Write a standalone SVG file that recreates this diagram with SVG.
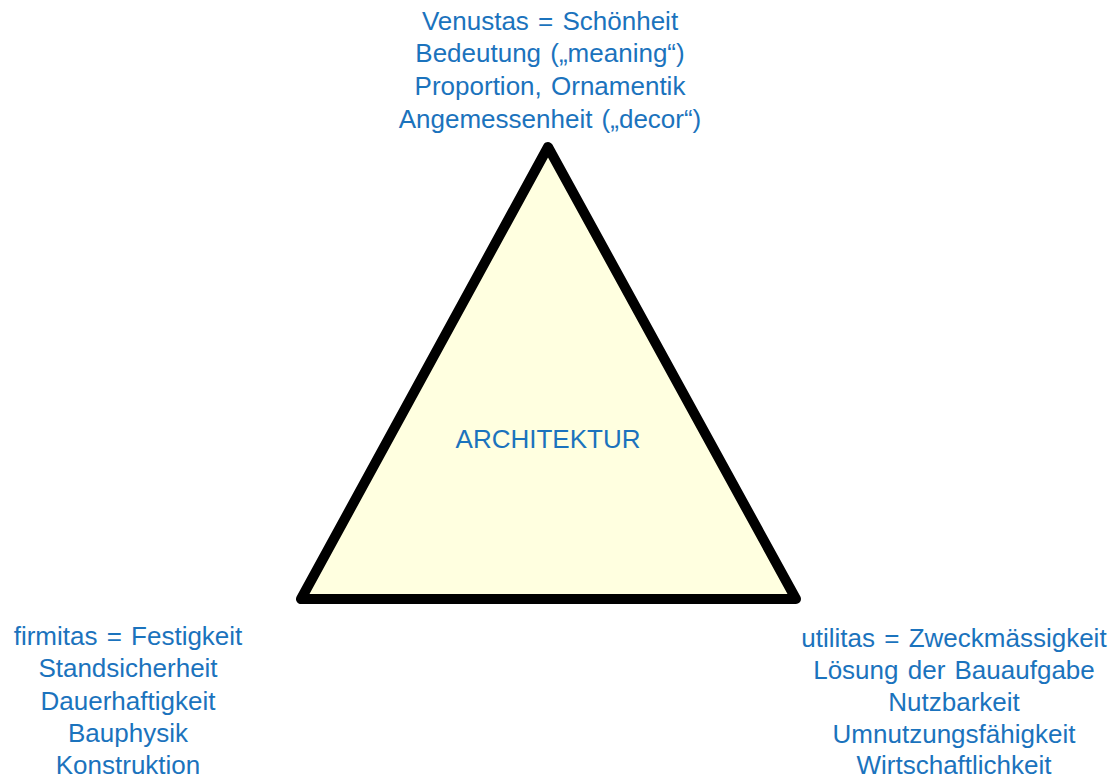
<svg xmlns="http://www.w3.org/2000/svg" width="1118" height="778" viewBox="0 0 1118 778">
  <style>
    .lbl { font-family: "Liberation Sans", Arial, sans-serif; font-size: 26px; word-spacing: 2px; fill: #1b73bd; text-anchor: middle; }
    .tri { fill: #ffffe0; stroke: #000000; stroke-width: 10; stroke-linejoin: round; }
  </style>
  <rect width="1118" height="778" fill="#ffffff"/>
  <g id="triangle">
    <polygon class="tri" points="548,147 301,599 796,599"/>
    <text class="lbl" x="548" y="448">ARCHITEKTUR</text>
  </g>
  <g id="venustas">
    <text class="lbl" x="550" y="30">Venustas = Schönheit</text>
    <text class="lbl" x="550" y="62">Bedeutung („meaning“)</text>
    <text class="lbl" x="550" y="95">Proportion, Ornamentik</text>
    <text class="lbl" x="550" y="128">Angemessenheit („decor“)</text>
  </g>
  <g id="firmitas">
    <text class="lbl" x="128" y="645">firmitas = Festigkeit</text>
    <text class="lbl" x="128" y="677">Standsicherheit</text>
    <text class="lbl" x="128" y="710">Dauerhaftigkeit</text>
    <text class="lbl" x="128" y="742">Bauphysik</text>
    <text class="lbl" x="128" y="774">Konstruktion</text>
  </g>
  <g id="utilitas">
    <text class="lbl" x="954" y="647">utilitas = Zweckmässigkeit</text>
    <text class="lbl" x="954" y="679">Lösung der Bauaufgabe</text>
    <text class="lbl" x="954" y="711">Nutzbarkeit</text>
    <text class="lbl" x="954" y="743">Umnutzungsfähigkeit</text>
    <text class="lbl" x="954" y="774">Wirtschaftlichkeit</text>
  </g>
  <g id="connectors"></g>
</svg>
